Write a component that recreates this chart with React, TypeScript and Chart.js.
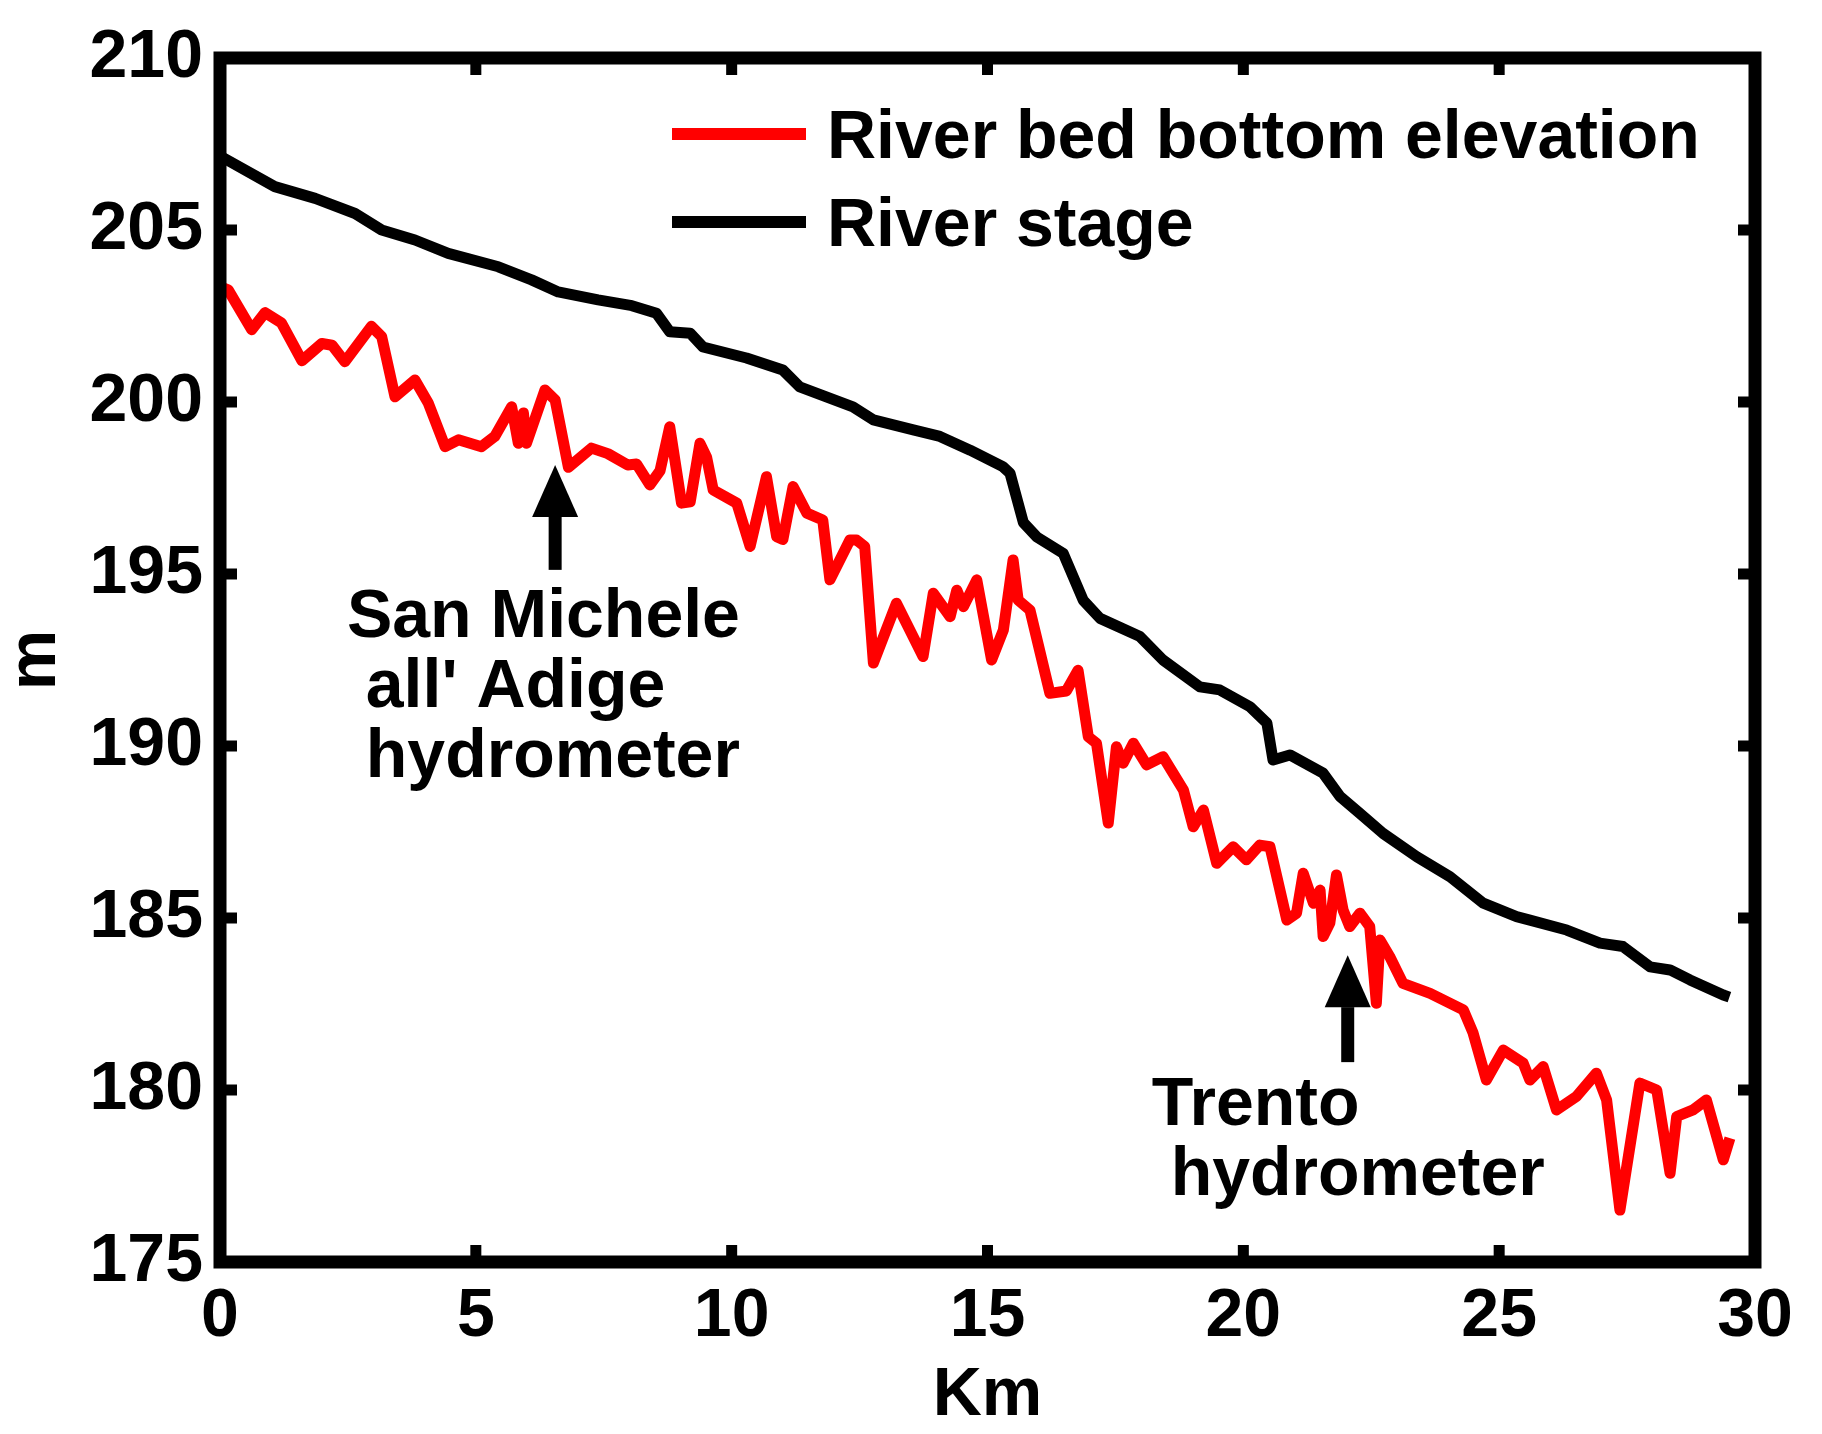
import { useEffect, useRef } from 'react';
import { Chart, registerables } from 'chart.js';

Chart.register(...registerables);

const FONT = '"Liberation Sans", Arial, sans-serif';

const xTicks = [0, 5, 10, 15, 20, 25, 30];
const yTicks = [175, 180, 185, 190, 195, 200, 205, 210];

const seriesLabels = ['River bed bottom elevation', 'River stage'];
const seriesColors = ['#ff0000', '#000000'];

// river bed bottom elevation (m) vs distance (km)
const bedKm = [
  0, 0.16, 0.62, 0.88, 1.2, 1.6, 1.99, 2.19, 2.44, 2.96, 3.16, 3.42, 3.81, 4.07, 4.4, 4.66,
  5.11, 5.37, 5.7, 5.83, 5.93, 5.99, 6.35, 6.55, 6.81, 7.26, 7.58, 7.97, 8.14, 8.4, 8.6, 8.79,
  9.02, 9.19, 9.38, 9.51, 9.64, 10.1, 10.36, 10.68, 10.88, 11.0, 11.2, 11.47, 11.78, 11.92,
  12.31, 12.44, 12.6, 12.77, 13.22, 13.74, 13.94, 14.27, 14.4, 14.53, 14.79, 15.08, 15.31,
  15.5, 15.6, 15.83, 16.22, 16.54, 16.77, 16.97, 17.13, 17.36, 17.52, 17.65, 17.85, 18.11,
  18.43, 18.83, 19.02, 19.22, 19.48, 19.8, 20.06, 20.32, 20.52, 20.85, 21.04, 21.17, 21.37,
  21.5, 21.56, 21.69, 21.82, 21.95, 22.08, 22.28, 22.47, 22.6, 22.67, 22.86, 23.12, 23.65,
  24.3, 24.49, 24.75, 25.08, 25.47, 25.6, 25.86, 26.12, 26.51, 26.9, 27.1, 27.36, 27.75,
  28.08, 28.34, 28.47, 28.79, 29.05, 29.38, 29.51,
];
const bedElevation = [
  203.35, 203.26, 202.1, 202.6, 202.3, 201.2, 201.7, 201.65, 201.17, 202.2, 201.9, 200.15,
  200.64, 199.97, 198.7, 198.9, 198.7, 199.0, 199.86, 198.8, 199.68, 198.8, 200.35, 200.06,
  198.1, 198.66, 198.5, 198.17, 198.2, 197.59, 198.0, 199.28, 197.06, 197.1, 198.8, 198.4,
  197.44, 197.06, 195.8, 197.83, 196.08, 196.0, 197.54, 196.77, 196.57, 194.83, 195.99,
  195.99, 195.8, 192.41, 194.15, 192.6, 194.44, 193.76, 194.53, 194.05, 194.83, 192.5,
  193.37, 195.41, 194.24, 193.95, 191.53, 191.6, 192.2, 190.27, 190.08, 187.76, 189.98,
  189.5, 190.08, 189.45, 189.69, 188.72, 187.65, 188.14, 186.59, 187.07, 186.69, 187.12,
  187.07, 184.94, 185.14, 186.3, 185.43, 185.81, 184.46, 184.85, 186.25, 185.23, 184.75,
  185.14, 184.75, 182.52, 184.36, 183.88, 183.1, 182.81, 182.33, 181.66, 180.29, 181.16,
  180.78, 180.29, 180.68, 179.42, 179.81, 180.49, 179.71, 176.51, 180.2, 180.0, 177.58,
  179.23, 179.42, 179.71, 177.97, 178.6,
];

// river stage (m) vs distance (km)
const stageKm = [
  0, 1.07, 1.86, 2.64, 3.16, 3.81, 4.46, 5.44, 6.09, 6.61, 7.39, 8.05, 8.53, 8.79, 9.19, 9.44,
  10.29, 11.0, 11.33, 12.37, 12.77, 13.55, 14.07, 14.66, 15.3, 15.44, 15.7, 15.96, 16.48,
  16.87, 17.2, 17.98, 18.43, 19.15, 19.54, 20.13, 20.46, 20.58, 20.91, 21.56, 21.89, 22.28,
  22.73, 23.39, 24.04, 24.69, 25.34, 25.6, 26.32, 26.97, 27.42, 27.95, 28.34, 28.73, 29.38,
  29.5,
];
const stageElevation = [
  207.15, 206.26, 205.92, 205.48, 205.0, 204.71, 204.32, 203.93, 203.55, 203.2, 202.97,
  202.8, 202.58, 202.04, 202.0, 201.6, 201.28, 200.93, 200.44, 199.86, 199.48, 199.19,
  199.0, 198.6, 198.12, 197.93, 196.5, 196.08, 195.6, 194.24, 193.71, 193.18, 192.5,
  191.72, 191.63, 191.14, 190.67, 189.59, 189.74, 189.21, 188.53, 188.04, 187.46, 186.78,
  186.2, 185.43, 185.04, 184.94, 184.65, 184.27, 184.17, 183.58, 183.49, 183.2, 182.76,
  182.7,
];

// hydrometer annotations
const noteLines = [
  ['San Michele', " all' Adige", ' hydrometer'],
  ['Trento', ' hydrometer'],
];
const noteTextKm = [2.48, 18.21];
const noteTextElevation = [193.17, 178.98];
const arrowKm = [6.55, 22.04];
const arrowTip = [198.17, 183.92];
const arrowTail = [195.12, 180.81];

const framePlugin = {
  id: 'frame',
  afterDatasetsDraw(chart: Chart) {
    const { ctx, chartArea: a, scales } = chart;
    ctx.save();
    ctx.strokeStyle = '#000';
    ctx.lineWidth = 13;
    ctx.lineJoin = 'miter';
    ctx.strokeRect(a.left, a.top, a.right - a.left, a.bottom - a.top);
    ctx.lineWidth = 11;
    ctx.beginPath();
    xTicks.forEach((v) => {
      const px = scales.x.getPixelForValue(v);
      ctx.moveTo(px, a.bottom);
      ctx.lineTo(px, a.bottom - 17);
      ctx.moveTo(px, a.top);
      ctx.lineTo(px, a.top + 17);
    });
    yTicks.forEach((v) => {
      const py = scales.y.getPixelForValue(v);
      ctx.moveTo(a.left, py);
      ctx.lineTo(a.left + 17, py);
      ctx.moveTo(a.right, py);
      ctx.lineTo(a.right - 17, py);
    });
    ctx.stroke();
    ctx.restore();
  },
};

const legendPlugin = {
  id: 'insideLegend',
  afterDraw(chart: Chart) {
    const { ctx, chartArea: a } = chart;
    ctx.save();
    ctx.font = `bold 68px ${FONT}`;
    ctx.textBaseline = 'alphabetic';
    ctx.textAlign = 'left';
    chart.data.datasets.forEach((ds, i) => {
      const y = a.top + 76 + i * 88;
      ctx.strokeStyle = ds.borderColor as string;
      ctx.lineWidth = 12;
      ctx.beginPath();
      ctx.moveTo(a.left + 452, y);
      ctx.lineTo(a.left + 586, y);
      ctx.stroke();
      ctx.fillStyle = '#000';
      ctx.fillText(ds.label ?? '', a.left + 607, y + 24);
    });
    ctx.restore();
  },
};

const notesPlugin = {
  id: 'notes',
  afterDraw(chart: Chart) {
    const { ctx, scales } = chart;
    ctx.save();
    ctx.fillStyle = '#000';
    ctx.strokeStyle = '#000';
    arrowKm.forEach((km, i) => {
      const x = scales.x.getPixelForValue(km);
      const tip = scales.y.getPixelForValue(arrowTip[i]);
      const tail = scales.y.getPixelForValue(arrowTail[i]);
      const headBase = tip + 52;
      ctx.lineWidth = 13;
      ctx.beginPath();
      ctx.moveTo(x, tail);
      ctx.lineTo(x, headBase);
      ctx.stroke();
      ctx.beginPath();
      ctx.moveTo(x, tip);
      ctx.lineTo(x - 23, headBase);
      ctx.lineTo(x + 23, headBase);
      ctx.closePath();
      ctx.fill();
    });
    ctx.font = `bold 68px ${FONT}`;
    ctx.textAlign = 'left';
    ctx.textBaseline = 'alphabetic';
    noteLines.forEach((lines, i) => {
      const x = scales.x.getPixelForValue(noteTextKm[i]);
      const y = scales.y.getPixelForValue(noteTextElevation[i]);
      lines.forEach((line, j) => ctx.fillText(line, x, y + j * 70));
    });
    ctx.restore();
  },
};

export default function App() {
  const canvasRef = useRef<HTMLCanvasElement>(null);
  const chartRef = useRef<Chart | null>(null);

  useEffect(() => {
    document.body.style.margin = '0';
    if (!canvasRef.current) return;
    chartRef.current?.destroy();

    const tickFont = { family: FONT, size: 68, weight: 'bold' as const };

    chartRef.current = new Chart(canvasRef.current, {
      type: 'line',
      data: {
        datasets: [
          {
            label: seriesLabels[0],
            data: bedKm.map((x, i) => ({ x, y: bedElevation[i] })),
            borderColor: seriesColors[0],
            borderWidth: 11,
            pointRadius: 0,
            tension: 0,
            borderJoinStyle: 'round',
          },
          {
            label: seriesLabels[1],
            data: stageKm.map((x, i) => ({ x, y: stageElevation[i] })),
            borderColor: seriesColors[1],
            borderWidth: 11,
            pointRadius: 0,
            tension: 0,
            borderJoinStyle: 'round',
          },
        ],
      },
      options: {
        responsive: true,
        maintainAspectRatio: false,
        animation: false,
        layout: { padding: { top: 58, right: 67, left: 0, bottom: 0 } },
        plugins: {
          legend: { display: false },
          tooltip: { enabled: false },
        },
        scales: {
          x: {
            type: 'linear',
            min: 0,
            max: 30,
            afterBuildTicks: (scale) => {
              scale.ticks = xTicks.map((value) => ({ value }));
            },
            afterFit: (scale) => {
              scale.height = 172;
            },
            grid: { display: false, drawTicks: false },
            border: { display: false },
            ticks: { color: '#000', font: tickFont, padding: 14, maxRotation: 0 },
            title: {
              display: true,
              text: 'Km',
              color: '#000',
              font: { ...tickFont, lineHeight: 1 },
              padding: { top: 0, bottom: 4 },
            },
          },
          y: {
            type: 'linear',
            min: 175,
            max: 210,
            afterBuildTicks: (scale) => {
              scale.ticks = yTicks.map((value) => ({ value }));
            },
            afterFit: (scale) => {
              scale.width = 220;
            },
            grid: { display: false, drawTicks: false },
            border: { display: false },
            ticks: { color: '#000', font: tickFont, padding: 17 },
            title: {
              display: true,
              text: 'm',
              color: '#000',
              font: { ...tickFont, lineHeight: 1 },
              padding: { top: 2, bottom: 0 },
            },
          },
        },
      },
      plugins: [framePlugin, legendPlugin, notesPlugin],
    });

    return () => chartRef.current?.destroy();
  }, []);

  return (
    <div style={{ position: 'relative', width: 1822, height: 1434, background: '#fff' }}>
      <canvas ref={canvasRef} />
    </div>
  );
}
